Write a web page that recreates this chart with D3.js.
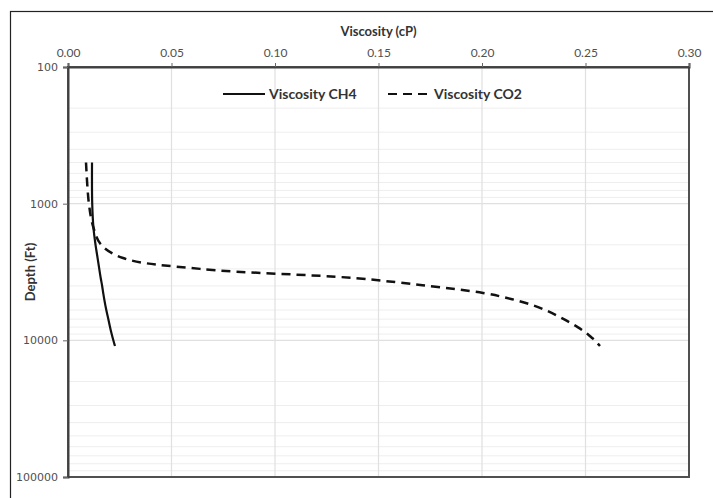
<!DOCTYPE html>
<html>
<head>
<meta charset="utf-8">
<script src="https://cdn.jsdelivr.net/npm/d3@7"></script>
<style>
  body { margin: 0; background: #fff; }
  svg { display: block; }
</style>
</head>
<body>
<div id="chart"></div>
<script>
// Depth (ft) for both series
const depths = [500, 1000, 1500, 2000, 2500, 3000, 3500, 4000, 4500, 5000, 5500,
                6000, 6500, 7000, 7500, 8000, 8500, 9000, 9500, 10000, 10500, 11000];
// Viscosity (cP)
const viscCH4 = [0.0116, 0.0117, 0.0123, 0.0133, 0.0143, 0.0151, 0.0158, 0.0165, 0.0170, 0.0175, 0.0180,
                 0.0185, 0.0190, 0.0195, 0.0199, 0.0203, 0.0207, 0.0211, 0.0215, 0.0219, 0.0223, 0.0227];
const viscCO2 = [0.0087, 0.0101, 0.0123, 0.0160, 0.0266, 0.0638, 0.138, 0.174, 0.2005, 0.2145, 0.224,
                 0.2305, 0.2355, 0.2395, 0.243, 0.2462, 0.2488, 0.251, 0.2528, 0.2545, 0.2558, 0.257];
const xTicks = [0, 0.05, 0.10, 0.15, 0.20, 0.25, 0.30];
const yTicks = [100, 1000, 10000, 100000];
const seriesNames = ["Viscosity CH4", "Viscosity CO2"];

const W = 713, H = 498;
const plot = { left: 68, top: 67, right: 689, bottom: 477 };

const svg = d3.select("#chart").append("svg")
    .attr("width", W)
    .attr("height", H);

// outer chart frame (only left/top visible)
svg.append("rect")
    .attr("x", 10.5).attr("y", 11.5)
    .attr("width", W + 20).attr("height", H + 20)
    .attr("fill", "none")
    .attr("stroke", "#222")
    .attr("stroke-width", 1.2);

const x = d3.scaleLinear().domain([0, 0.30]).range([plot.left, plot.right]);
const y = d3.scaleLog().domain([100, 100000]).range([plot.top, plot.bottom]);

// minor horizontal grid (log)
const minor = [];
[100, 1000, 10000].forEach(dec => {
    for (let k = 2; k <= 9; k++) minor.push(dec * k);
});
svg.append("g").selectAll("line")
    .data(minor)
    .join("line")
    .attr("x1", plot.left).attr("x2", plot.right)
    .attr("y1", d => y(d)).attr("y2", d => y(d))
    .attr("stroke", "#eeeeee")
    .attr("stroke-width", 1);

// major grid
svg.append("g").selectAll("line")
    .data(yTicks.slice(1, -1))
    .join("line")
    .attr("x1", plot.left).attr("x2", plot.right)
    .attr("y1", d => y(d)).attr("y2", d => y(d))
    .attr("stroke", "#e0e0e0")
    .attr("stroke-width", 1.2);

svg.append("g").selectAll("line")
    .data(xTicks.slice(1, -1))
    .join("line")
    .attr("x1", d => x(d)).attr("x2", d => x(d))
    .attr("y1", plot.top).attr("y2", plot.bottom)
    .attr("stroke", "#e0e0e0")
    .attr("stroke-width", 1.2);

// plot box
svg.append("rect")
    .attr("x", plot.left).attr("y", plot.top)
    .attr("width", plot.right - plot.left)
    .attr("height", plot.bottom - plot.top)
    .attr("fill", "none")
    .attr("stroke", "#505050")
    .attr("stroke-width", 2);

// top axis
const xAxis = svg.append("g")
    .attr("transform", `translate(0,${plot.top})`)
    .call(d3.axisTop(x).tickValues(xTicks).tickFormat(d3.format(".2f")).tickSize(4).tickPadding(6));
xAxis.select(".domain").attr("stroke", "#404040").attr("stroke-width", 2);
xAxis.selectAll(".tick line").attr("stroke", "#666");
xAxis.selectAll("text")
    .attr("font-family", "Lato, 'Open Sans', sans-serif")
    .attr("font-size", "12px")
    .attr("fill", "#505050");

// left axis
const yAxis = svg.append("g")
    .attr("transform", `translate(${plot.left},0)`)
    .call(d3.axisLeft(y).tickValues(yTicks).tickFormat(d3.format("d")).tickSize(5).tickPadding(5));
yAxis.select(".domain").attr("stroke", "#404040").attr("stroke-width", 2);
yAxis.selectAll(".tick line").attr("stroke", "#666");
yAxis.selectAll("text")
    .attr("font-family", "'DejaVu Sans', sans-serif")
    .attr("font-size", "11px")
    .attr("fill", "#505050");

// axis titles
svg.append("text")
    .attr("x", (plot.left + plot.right) / 2)
    .attr("y", 36)
    .attr("text-anchor", "middle")
    .attr("font-family", "Lato, 'Open Sans', sans-serif")
    .attr("font-size", "13px")
    .attr("font-weight", "bold")
    .attr("fill", "#333")
    .text("Viscosity (cP)");

svg.append("text")
    .attr("transform", `translate(35,${(plot.top + plot.bottom) / 2}) rotate(-90)`)
    .attr("text-anchor", "middle")
    .attr("font-family", "Lato, 'Open Sans', sans-serif")
    .attr("font-size", "13px")
    .attr("font-weight", "bold")
    .attr("fill", "#333")
    .text("Depth (Ft)");

// series
const line = d3.line()
    .x(d => x(d.v))
    .y(d => y(d.depth))
    .curve(d3.curveCatmullRom);

const ch4 = depths.map((dp, i) => ({ depth: dp, v: viscCH4[i] }));
const co2 = depths.map((dp, i) => ({ depth: dp, v: viscCO2[i] }));

svg.append("path")
    .datum(co2)
    .attr("d", line)
    .attr("fill", "none")
    .attr("stroke", "#111")
    .attr("stroke-width", 2.5)
    .attr("stroke-dasharray", "9,6");

svg.append("path")
    .datum(ch4)
    .attr("d", line)
    .attr("fill", "none")
    .attr("stroke", "#111")
    .attr("stroke-width", 2.2);

// legend
const legend = [
    { name: seriesNames[0], x0: 223, x1: 265, dash: null },
    { name: seriesNames[1], x0: 388, x1: 430, dash: "9,6" }
];
const legY = 94;
legend.forEach(l => {
    svg.append("line")
        .attr("x1", l.x0).attr("x2", l.x1)
        .attr("y1", legY).attr("y2", legY)
        .attr("stroke", "#111")
        .attr("stroke-width", 2)
        .attr("stroke-dasharray", l.dash);
    svg.append("text")
        .attr("x", l.x1 + 4)
        .attr("y", legY + 5)
        .attr("font-family", "Lato, 'Open Sans', sans-serif")
        .attr("font-size", "14px")
        .attr("font-weight", "bold")
        .attr("fill", "#333")
        .text(l.name);
});
</script>
</body>
</html>
